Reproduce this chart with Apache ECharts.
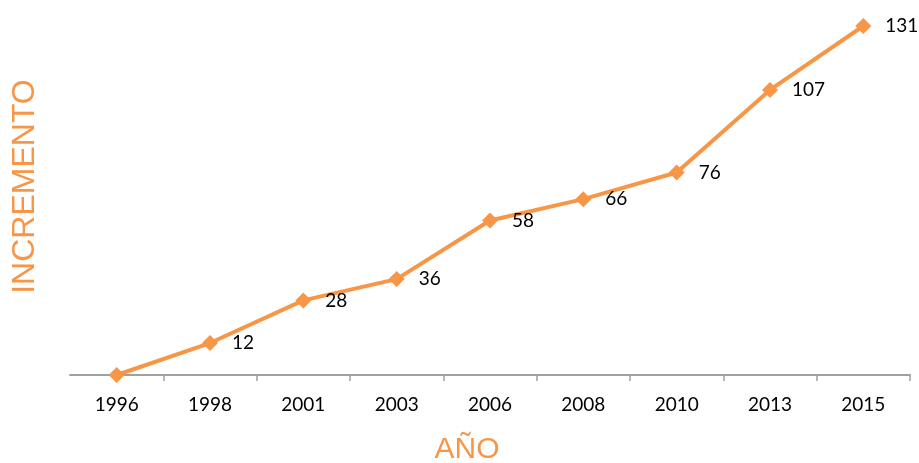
<!DOCTYPE html>
<html>
<head>
<meta charset="utf-8">
<script src="https://cdn.jsdelivr.net/npm/echarts@6/dist/echarts.min.js"></script>
<style>
  html, body { margin: 0; padding: 0; background: #fff; }
  #chart { width: 919px; height: 463px; }
</style>
</head>
<body>
<div id="chart"></div>
<script>
// datos
const years = ['1996', '1998', '2001', '2003', '2006', '2008', '2010', '2013', '2015'];
const incremento = [0, 12, 28, 36, 58, 66, 76, 107, 131];

const orange = '#F79646';
const chart = echarts.init(document.getElementById('chart'));

chart.setOption({
  animation: false,
  grid: { left: 70, right: 9, top: 26, bottom: 88, outerBoundsMode: 'none' },
  xAxis: {
    type: 'category',
    data: years,
    boundaryGap: true,
    name: 'AÑO',
    nameLocation: 'middle',
    nameGap: 60,
    nameTextStyle: { color: orange, fontSize: 30, fontFamily: 'Liberation Sans', padding: [0, 46, 0, 0] },
    axisLine: { lineStyle: { color: '#a0a0a0', width: 2 } },
    axisTick: {
      show: true,
      length: 6,
      interval: (i) => i !== 0,
      lineStyle: { color: '#a0a0a0', width: 1.5 }
    },
    axisLabel: { color: '#000', fontSize: 19, fontFamily: 'Lato', margin: 20 }
  },
  yAxis: {
    type: 'value',
    min: 0,
    max: 131,
    name: 'INCREMENTO',
    nameLocation: 'middle',
    nameGap: 29,
    nameTextStyle: { color: orange, fontSize: 32, fontFamily: 'Liberation Sans', padding: [0, 0, 0, 28] },
    axisLine: { show: false },
    axisTick: { show: false },
    axisLabel: { show: false },
    splitLine: { show: false }
  },
  series: [{
    type: 'line',
    data: incremento,
    symbol: 'diamond',
    symbolSize: 16,
    lineStyle: { color: orange, width: 4 },
    itemStyle: { color: orange },
    label: {
      show: true,
      position: 'right',
      distance: 14,
      color: '#000',
      fontSize: 19,
      fontFamily: 'Lato',
      formatter: p => (p.value === 0 ? '' : p.value)
    }
  }]
});
</script>
</body>
</html>
